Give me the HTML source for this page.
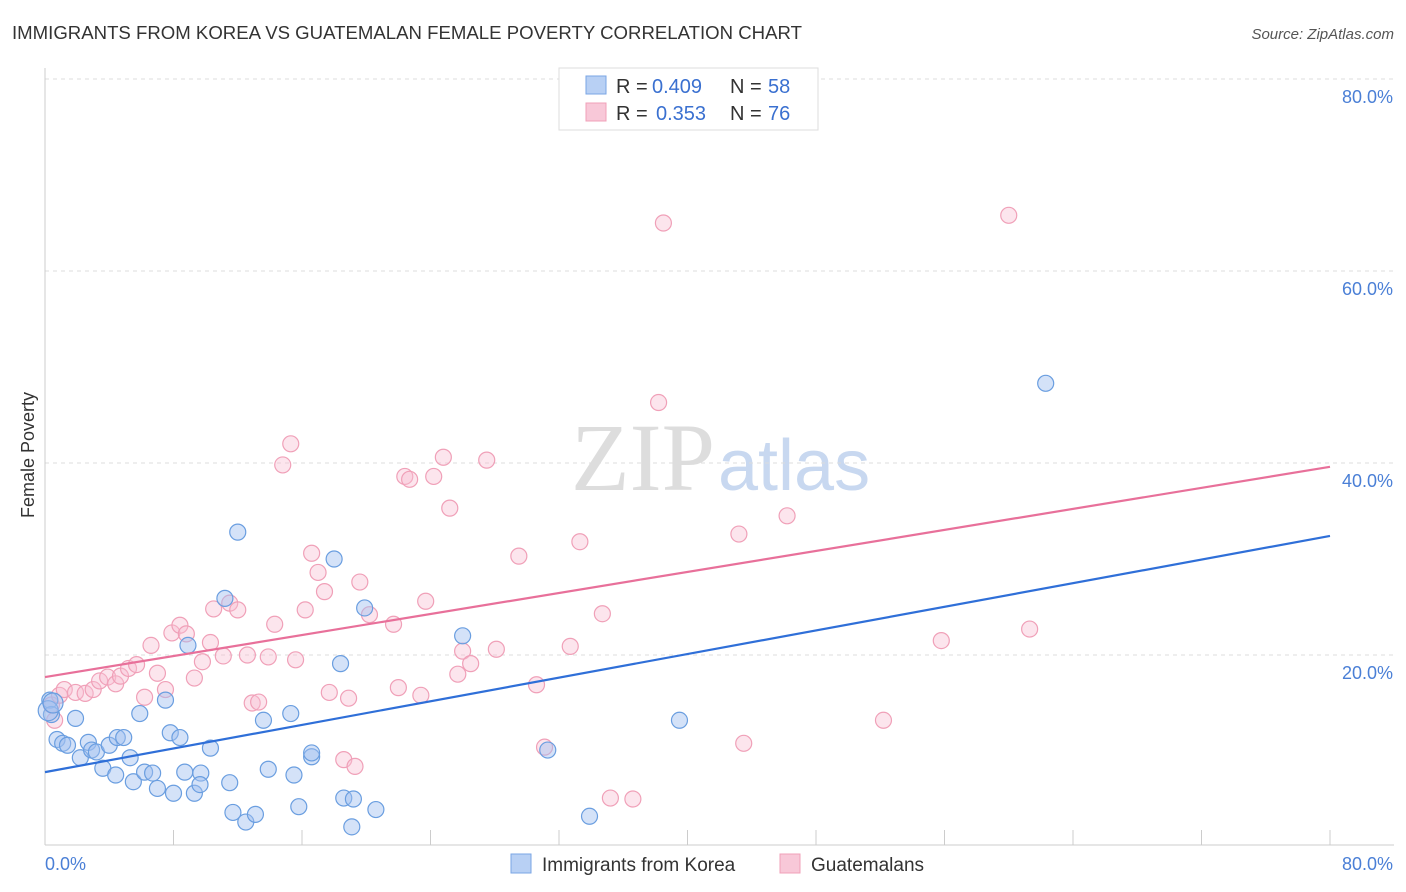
<!DOCTYPE html>
<html><head><meta charset="utf-8"><style>
body{margin:0;background:#fff;font-family:"Liberation Sans",sans-serif;}
svg{display:block}
</style></head><body>
<svg id="chart" width="1406" height="892">
<text x="12" y="39" font-size="18" fill="#333" textLength="790" lengthAdjust="spacingAndGlyphs">IMMIGRANTS FROM KOREA VS GUATEMALAN FEMALE POVERTY CORRELATION CHART</text>
<text x="1394" y="39" font-size="15" fill="#555" text-anchor="end" font-style="italic">Source: ZipAtlas.com</text>
<text x="34" y="455" font-size="18" fill="#333" transform="rotate(-90 34 455)" text-anchor="middle">Female Poverty</text>
<text x="715" y="490" font-size="96" fill="#ddd" text-anchor="end" font-family="Liberation Serif">ZIP</text>
<text x="718" y="490" font-size="72" fill="#c8d8f0">atlas</text>
<g id="grid"></g><g id="axes"></g><g id="pts"></g><g id="lines"></g>
<g>
<rect x="559" y="68" width="259" height="62" fill="#fff" stroke="#ddd"/>
<rect x="586" y="76" width="20" height="18" fill="#b8d0f4" stroke="#7aa6e4"/>
<text x="616" y="93" font-size="20" fill="#333">R =</text>
<text x="652" y="93" font-size="20" fill="#3a70d0">0.409</text>
<text x="730" y="93" font-size="20" fill="#333">N =</text>
<text x="768" y="93" font-size="20" fill="#3a70d0">58</text>
<rect x="586" y="103" width="20" height="18" fill="#f8c8d8" stroke="#f0a0b8"/>
<text x="616" y="120" font-size="20" fill="#333">R =</text>
<text x="656" y="120" font-size="20" fill="#3a70d0">0.353</text>
<text x="730" y="120" font-size="20" fill="#333">N =</text>
<text x="768" y="120" font-size="20" fill="#3a70d0">76</text>
</g>
<g>
<rect x="511" y="854" width="20" height="19" fill="#b8d0f4" stroke="#7aa6e4"/>
<text x="542" y="871" font-size="19" fill="#333">Immigrants from Korea</text>
<rect x="780" y="854" width="20" height="19" fill="#f8c8d8" stroke="#f0a0b8"/>
<text x="811" y="871" font-size="19" fill="#333">Guatemalans</text>
</g>
</svg>
<script>
const koreaX=[0.3,0.4,0.75,1.1,1.4,1.9,2.2,2.7,2.9,3.2,3.6,4.0,4.4,4.5,4.9,5.3,5.5,5.9,6.2,6.7,7.0,7.5,7.8,8.0,8.4,8.7,8.9,9.3,9.7,9.65,10.3,11.2,11.5,11.7,12.0,12.5,13.1,13.6,13.9,15.3,15.5,15.8,16.6,16.6,18.0,18.4,18.6,19.1,19.2,19.9,20.6,26.0,31.3,33.9,39.5,62.3,0.2,0.5];
const koreaY=[15.3,13.8,11.2,10.8,10.6,13.4,9.3,10.9,10.1,9.9,8.2,10.6,7.5,11.4,11.4,9.3,6.8,13.9,7.8,7.7,6.1,15.3,11.9,5.6,11.4,7.8,21.0,5.6,7.7,6.5,10.3,25.9,6.7,3.6,32.8,2.6,3.4,13.2,8.1,13.9,7.5,4.2,9.4,9.8,30.0,19.1,5.1,2.1,5.0,24.9,3.9,22.0,10.1,3.2,13.2,48.3,14.2,15.0];
const guatX=[0.4,0.6,0.9,1.2,1.9,2.5,3.0,3.4,3.9,4.4,4.7,5.2,5.7,6.2,6.6,7.0,7.5,7.9,8.4,8.8,9.3,9.8,10.3,10.5,11.1,11.5,12.0,12.6,12.9,13.3,13.9,14.3,14.8,15.3,15.6,16.2,16.6,17.0,17.4,17.7,18.6,18.9,19.3,19.6,20.2,21.7,22.0,22.4,22.7,23.4,23.7,24.2,24.8,25.2,25.7,26.0,26.5,27.5,28.1,29.5,30.6,31.1,32.7,33.3,34.7,35.2,36.6,38.2,38.5,43.2,43.5,46.2,52.2,55.8,60.0,61.3];
const guatY=[14.8,13.2,15.8,16.4,16.1,16.0,16.4,17.3,17.7,17.0,17.8,18.6,19.0,15.6,21.0,18.1,16.4,22.3,23.1,22.2,17.6,19.3,21.3,24.8,19.9,25.4,24.7,20.0,15.0,15.1,19.8,23.2,39.8,42.0,19.5,24.7,30.6,28.6,26.6,16.1,9.1,15.5,8.4,27.6,24.2,23.2,16.6,38.6,38.3,15.8,25.6,38.6,40.6,35.3,18.0,20.4,19.1,40.3,20.6,30.3,16.9,10.4,20.9,31.8,24.3,5.1,5.0,46.3,65.0,32.6,10.8,34.5,13.2,21.5,65.8,22.7];
const koreaLine=[7.8,32.4];
const guatLine=[17.7,39.6];
const yTicks=[20,40,60,80];
const xTickVals=[0,8,16,24,32,40,48,56,64,72,80];
const NS='http://www.w3.org/2000/svg';
const sx=v=>45+v*16.0625, sy=v=>847-v*9.6;
function mk(t,a,p){const e=document.createElementNS(NS,t);for(const k in a)e.setAttribute(k,a[k]);p.appendChild(e);return e;}
const grid=document.getElementById('grid'),axes=document.getElementById('axes'),pts=document.getElementById('pts'),lines=document.getElementById('lines');
yTicks.forEach(v=>{
 const l=mk('line',{x1:45,x2:1394,y1:sy(v),y2:sy(v),stroke:'#ddd','stroke-dasharray':'4,4'},grid);
 
 
 const t=mk('text',{x:1393,y:sy(v)+24,'font-size':18,fill:'#4a7fd6','text-anchor':'end'},axes);
 t.textContent=v.toFixed(1)+'%';
 
 
});
const ax=mk('line',{x1:45,x2:1394,y1:845,y2:845,stroke:'#ccc'},axes);


const ay=mk('line',{x1:45,x2:45,y1:68,y2:845,stroke:'#ccc'},axes);


xTickVals.forEach(v=>{
 const t=mk('line',{x1:sx(v),x2:sx(v),y1:830,y2:845,stroke:'#ccc'},axes);
 
 
});
[[0,'start'],[80,'end']].forEach(([v,a])=>{
 const t=mk('text',{x:v==0?45:1393,y:870,'font-size':18,fill:'#4a7fd6','text-anchor':a},axes);
 t.textContent=v.toFixed(1)+'%';
 
 
});
function dots(X,Y,fill,stroke,name){X.forEach((x,i)=>{
 const c=mk('circle',{cx:sx(x),cy:sy(Y[i]),r:i>=56&&name=='korea-point'?10:8,fill:fill,stroke:stroke,'stroke-width':1.2},pts);
 
 
});}
dots(guatX,guatY,'rgba(248,190,210,0.4)','#f0a0b8','guatemalan-point');
dots(koreaX,koreaY,'rgba(160,190,240,0.45)','#6a9ee0','korea-point');
const l1=mk('line',{x1:sx(0),y1:sy(guatLine[0]),x2:sx(80),y2:sy(guatLine[1]),stroke:'#e8709a','stroke-width':2.2},lines);


const l2=mk('line',{x1:sx(0),y1:sy(koreaLine[0]),x2:sx(80),y2:sy(koreaLine[1]),stroke:'#2f6fd8','stroke-width':2.2},lines);


</script>
</body></html>
